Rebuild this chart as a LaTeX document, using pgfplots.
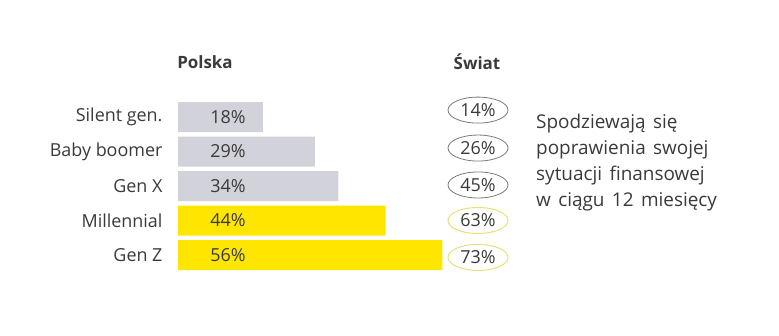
\documentclass[border=0pt]{standalone}
\usepackage{pgfplots}
\pgfplotsset{compat=1.18}
\usepackage{fontspec}
\setmainfont{Open Sans}
\newfontfamily\rtfont[WordSpace=1.5]{Open Sans}
\usetikzlibrary{shapes.geometric}
\definecolor{barg}{HTML}{D2D2DA}
\definecolor{eyy}{HTML}{FFE600}
\definecolor{txt}{HTML}{3A3A3A}
\definecolor{ellg}{HTML}{7A7A7A}
\definecolor{elly}{HTML}{E6E07A}
\begin{document}
\begin{tikzpicture}
\useasboundingbox (0,0) rectangle (779bp,336bp);
\begin{axis}[
  at={(178bp,63.75bp)}, anchor=south west,
  scale only axis, width=472bp, height=172.5bp,
  xmin=0, xmax=100, ymin=-0.5, ymax=4.5, y dir=reverse,
  bar width=30bp,
  axis line style={draw=none}, tick style={draw=none},
  xtick=\empty, ytick={0,1,2,3,4},
  yticklabels={Silent gen., Baby boomer, Gen X, Millennial, Gen Z},
  yticklabel style={font=\fontsize{18}{21}\selectfont, text=txt, xshift=-12bp},
  clip=false,
]
\addplot[xbar, fill=barg, draw=none] coordinates {(18,0) (29,1) (34,2)};
\addplot[xbar, fill=eyy, draw=none] coordinates {(44,3) (56,4)};
\addplot[draw=none, mark=none, nodes near coords, point meta=explicit symbolic,
  every node near coord/.append style={anchor=center, text=txt, font=\fontsize{18}{21}\selectfont}]
  coordinates {(10.6,0) [18\%] (10.6,1) [29\%] (10.6,2) [34\%] (10.6,3) [44\%] (10.6,4) [56\%]};
\addplot[draw=none, mark=none, nodes near coords, point meta=explicit symbolic,
  every node near coord/.append style={anchor=center, ellipse, draw=ellg, line width=0.8bp,
    minimum width=60bp, minimum height=26bp, inner sep=0pt, text=txt, font=\fontsize{18}{21}\selectfont}]
  coordinates {(63.56,-0.2) [14\%] (63.56,0.9) [26\%] (63.56,1.97) [45\%]};
\addplot[draw=none, mark=none, nodes near coords, point meta=explicit symbolic,
  every node near coord/.append style={anchor=center, ellipse, draw=elly, line width=1bp,
    minimum width=60bp, minimum height=26bp, inner sep=0pt, text=txt, font=\fontsize{18}{21}\selectfont}]
  coordinates {(63.56,3.0) [63\%] (63.56,4.07) [73\%]};
\end{axis}
\node[font=\bfseries\fontsize{17}{20}\selectfont, text=txt] at (205bp,274bp) {Polska};
\node[font=\bfseries\fontsize{17}{20}\selectfont, text=txt] at (477bp,274bp) {Świat};
\node[anchor=north west, align=left, inner sep=0pt, text=txt,
  font=\rtfont\fontsize{19}{26}\selectfont] at (536bp,222bp)
  {Spodziewają się\\poprawienia swojej\\sytuacji finansowej\\w ciągu 12 miesięcy};
\end{tikzpicture}
\end{document}
